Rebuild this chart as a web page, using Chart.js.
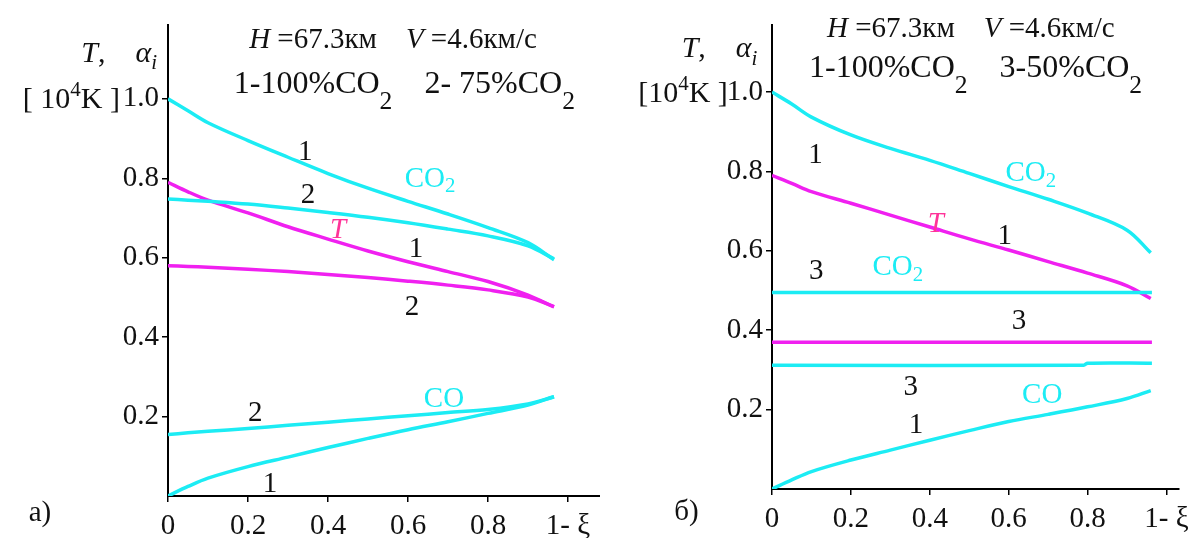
<!DOCTYPE html>
<html><head><meta charset="utf-8">
<script src="https://cdn.jsdelivr.net/npm/chart.js@4.4.1/dist/chart.umd.min.js"></script>
<style>
html,body{margin:0;padding:0;background:#fff;}
#wrap{position:relative;width:1196px;height:538px;background:#fff;}
#cL{position:absolute;left:0;top:0;}
#cR{position:absolute;left:600px;top:0;}
</style></head><body>
<div id="wrap"><canvas id="cL" width="600" height="538"></canvas><canvas id="cR" width="596" height="538"></canvas></div>
<script>
// ---- tick labels ----
const xTicks = [0, 0.2, 0.4, 0.6, 0.8, 1.0];
const xTickLabels = ['0', '0.2', '0.4', '0.6', '0.8', '1- ξ'];
const yTicks = [0.2, 0.4, 0.6, 0.8, 1.0];
const yTickLabels = ['0.2', '0.4', '0.6', '0.8', '1.0'];

// ---- panel a) : 1-100%CO2, 2-75%CO2 ----
const xLeft   = [0, 0.05, 0.1, 0.2, 0.3, 0.4, 0.5, 0.6, 0.7, 0.8, 0.9, 0.965];
const co2_1L  = [1.0, 0.97, 0.94, 0.895, 0.853, 0.812, 0.775, 0.742, 0.71, 0.676, 0.638, 0.595];
const co2_2L  = [0.748, 0.745, 0.742, 0.735, 0.725, 0.714, 0.702, 0.688, 0.672, 0.655, 0.63, 0.597];
const t_1L    = [0.79, 0.766, 0.745, 0.713, 0.678, 0.647, 0.617, 0.59, 0.565, 0.54, 0.506, 0.476];
const t_2L    = [0.58, 0.578, 0.576, 0.571, 0.565, 0.558, 0.55, 0.541, 0.531, 0.519, 0.501, 0.477];
const co_1L   = [0, 0.024, 0.045, 0.074, 0.098, 0.122, 0.145, 0.167, 0.187, 0.208, 0.229, 0.25];
const co_2L   = [0.155, 0.159, 0.163, 0.17, 0.178, 0.186, 0.194, 0.202, 0.21, 0.218, 0.232, 0.25];

// ---- panel б) : 1-100%CO2, 3-50%CO2 ----
const xRight  = [0, 0.05, 0.1, 0.2, 0.3, 0.4, 0.5, 0.6, 0.7, 0.8, 0.9, 0.96];
const co2_1R  = [1.0, 0.97, 0.937, 0.892, 0.858, 0.828, 0.795, 0.762, 0.73, 0.695, 0.652, 0.595];
const t_1R    = [0.79, 0.77, 0.749, 0.72, 0.69, 0.66, 0.63, 0.602, 0.573, 0.544, 0.512, 0.48];
const co_1R   = [0, 0.023, 0.044, 0.073, 0.098, 0.123, 0.147, 0.17, 0.188, 0.207, 0.228, 0.248];
const xFlat   = [0, 0.79, 0.8, 0.963];
const co2_3R  = [0.495, 0.495, 0.495, 0.495];
const t_3R    = [0.37, 0.37, 0.37, 0.37];
const co_3R   = [0.312, 0.312, 0.317, 0.317];

const CYAN = '#1CECF4', MAG = '#F020F0', TCOL = '#FF3399', INK = '#111';
const FONT = '"Liberation Serif", "Times New Roman", serif';

function pts(xs, ys) { return xs.map((x, i) => ({x: x, y: ys[i]})); }
function ds(xs, ys, color) {
  return {data: pts(xs, ys), showLine: true, borderColor: color, backgroundColor: color,
    borderWidth: 3.5, pointRadius: 0, tension: 0.35, fill: false};
}

// ---- text annotations (data coordinates) ----
const P = (t, o) => Object.assign({t: t}, o || {});
const textsLeft = [
  {x: 0.5625, y: 1.128, size: 29, color: INK, parts: [P('H', {it: 1}), P(' =67.3км    '), P('V', {it: 1}), P(' =4.6км/с')]},
  {x: 0.591, y: 1.015, size: 32, color: INK, parts: [P('1-100%CO'), P('2', {sub: 1, sc: 0.8, dy: 0.5}), P('    2- 75%CO'), P('2', {sub: 1, sc: 0.8, dy: 0.5})]},
  {x: -0.0275, y: 1.093, size: 30, color: INK, align: 'right', parts: [P('T', {it: 1}), P(',    '), P('α', {it: 1}), P('i', {it: 1, sub: 1, sc: 0.7, dy: 0.25})]},
  {x: -0.12, y: 0.977, size: 30, color: INK, align: 'right', parts: [P('[ 10'), P('4', {sup: 1, sc: 0.7, dy: 0.4}), P('K ]')]},
  {x: 0.343, y: 0.87, size: 29, color: INK, mid: 1, parts: [P('1')]},
  {x: 0.35, y: 0.763, size: 29, color: INK, mid: 1, parts: [P('2')]},
  {x: 0.655, y: 0.803, size: 29, color: CYAN, mid: 1, parts: [P('CO'), P('2', {sub: 1, sc: 0.72, dy: 0.2})]},
  {x: 0.425, y: 0.675, size: 29, color: TCOL, mid: 1, parts: [P('T', {it: 1})]},
  {x: 0.62, y: 0.627, size: 29, color: INK, mid: 1, parts: [P('1')]},
  {x: 0.61, y: 0.48, size: 29, color: INK, mid: 1, parts: [P('2')]},
  {x: 0.218, y: 0.212, size: 29, color: INK, mid: 1, parts: [P('2')]},
  {x: 0.69, y: 0.247, size: 29, color: CYAN, mid: 1, parts: [P('CO')]},
  {x: 0.255, y: 0.035, size: 29, color: INK, mid: 1, parts: [P('1')]},
  {x: -0.32, y: -0.04, size: 29, color: INK, mid: 1, parts: [P('а)')]}
];
const textsRight = [
  {x: 0.504, y: 1.139, size: 29, color: INK, parts: [P('H', {it: 1}), P(' =67.3км    '), P('V', {it: 1}), P(' =4.6км/с')]},
  {x: 0.516, y: 1.038, size: 32, color: INK, parts: [P('1-100%CO'), P('2', {sub: 1, sc: 0.8, dy: 0.5}), P('    3-50%CO'), P('2', {sub: 1, sc: 0.8, dy: 0.5})]},
  {x: -0.037, y: 1.088, size: 30, color: INK, align: 'right', parts: [P('T', {it: 1}), P(',    '), P('α', {it: 1}), P('i', {it: 1, sub: 1, sc: 0.7, dy: 0.25})]},
  {x: -0.112, y: 0.975, size: 30, color: INK, align: 'right', parts: [P('[10'), P('4', {sup: 1, sc: 0.7, dy: 0.4}), P('K ]')]},
  {x: 0.11, y: 0.846, size: 29, color: INK, mid: 1, parts: [P('1')]},
  {x: 0.656, y: 0.80, size: 29, color: CYAN, mid: 1, parts: [P('CO'), P('2', {sub: 1, sc: 0.72, dy: 0.2})]},
  {x: 0.415, y: 0.672, size: 29, color: TCOL, mid: 1, parts: [P('T', {it: 1})]},
  {x: 0.59, y: 0.642, size: 29, color: INK, mid: 1, parts: [P('1')]},
  {x: 0.112, y: 0.554, size: 29, color: INK, mid: 1, parts: [P('3')]},
  {x: 0.319, y: 0.564, size: 29, color: CYAN, mid: 1, parts: [P('CO'), P('2', {sub: 1, sc: 0.72, dy: 0.2})]},
  {x: 0.626, y: 0.426, size: 29, color: INK, mid: 1, parts: [P('3')]},
  {x: 0.352, y: 0.262, size: 29, color: INK, mid: 1, parts: [P('3')]},
  {x: 0.685, y: 0.242, size: 29, color: CYAN, mid: 1, parts: [P('CO')]},
  {x: 0.365, y: 0.166, size: 29, color: INK, mid: 1, parts: [P('1')]},
  {x: -0.217, y: -0.055, size: 29, color: INK, mid: 1, parts: [P('б)')]}
];

const textPlugin = {
  id: 'richTexts',
  afterDraw(chart, args, opts) {
    const ctx = chart.ctx, xs = chart.scales.x, ys = chart.scales.y;
    ctx.save();
    (opts.items || []).forEach(item => {
      const px = xs.getPixelForValue(item.x), py = ys.getPixelForValue(item.y);
      let total = 0;
      const segs = item.parts.map(p => {
        const size = item.size * ((p.sub || p.sup) ? p.sc : 1);
        const font = (p.it ? 'italic ' : '') + size + 'px ' + FONT;
        ctx.font = font;
        const w = ctx.measureText(p.t).width;
        total += w;
        return Object.assign({}, p, {font: font, w: w});
      });
      let x = item.align === 'right' ? px - total : (item.align === 'left' ? px : px - total / 2);
      const base = item.mid ? py + item.size * 0.33 : py;
      ctx.textAlign = 'left'; ctx.textBaseline = 'alphabetic'; ctx.fillStyle = item.color;
      segs.forEach(s => {
        ctx.font = s.font;
        const dy = s.sub ? item.size * s.dy : (s.sup ? -item.size * s.dy : 0);
        ctx.fillText(s.t, x, base + dy);
        x += s.w;
      });
    });
    ctx.restore();
  }
};

function makeChart(id, datasets, xMax, yMax, yWidth, xHeight, padRight, texts) {
  return new Chart(document.getElementById(id), {
    type: 'scatter',
    data: {datasets: datasets},
    plugins: [textPlugin],
    options: {
      responsive: false, animation: false, devicePixelRatio: 1,
      layout: {padding: {top: 25, right: padRight, left: 0, bottom: 0}},
      plugins: {legend: {display: false}, tooltip: {enabled: false}, richTexts: {items: texts}},
      scales: {
        x: {
          type: 'linear', min: 0, max: xMax,
          afterBuildTicks: s => { s.ticks = xTicks.map(v => ({value: v})); },
          afterFit: s => { s.height = xHeight; },
          ticks: {autoSkip: false, maxRotation: 0, padding: 7, color: INK,
            font: {family: FONT, size: 29},
            callback: (v, i) => xTickLabels[i]},
          grid: {display: true, drawOnChartArea: false, drawTicks: true, tickLength: 6, color: '#000', lineWidth: 1.5},
          border: {display: true, color: '#000', width: 2}
        },
        y: {
          type: 'linear', min: 0, max: yMax,
          afterBuildTicks: s => { s.ticks = yTicks.map(v => ({value: v})); },
          afterFit: s => { s.width = yWidth; },
          ticks: {autoSkip: false, padding: 3, color: INK,
            font: {family: FONT, size: 29},
            callback: (v, i) => yTickLabels[i]},
          grid: {display: true, drawOnChartArea: false, drawTicks: true, tickLength: 6, color: '#000', lineWidth: 1.5},
          border: {display: true, color: '#000', width: 2}
        }
      }
    }
  });
}

makeChart('cL', [
  ds(xLeft, co2_1L, CYAN), ds(xLeft, co2_2L, CYAN),
  ds(xLeft, t_1L, MAG), ds(xLeft, t_2L, MAG),
  ds(xLeft, co_1L, CYAN), ds(xLeft, co_2L, CYAN)
], 1.08, 1.186, 168, 42, 0, textsLeft);

makeChart('cR', [
  ds(xRight, co2_1R, CYAN), ds(xFlat, co2_3R, CYAN),
  ds(xRight, t_1R, MAG), ds(xFlat, t_3R, MAG),
  ds(xFlat, co_3R, CYAN), ds(xRight, co_1R, CYAN)
], 1.03, 1.169, 172, 49, 11, textsRight);
</script>
</body></html>
